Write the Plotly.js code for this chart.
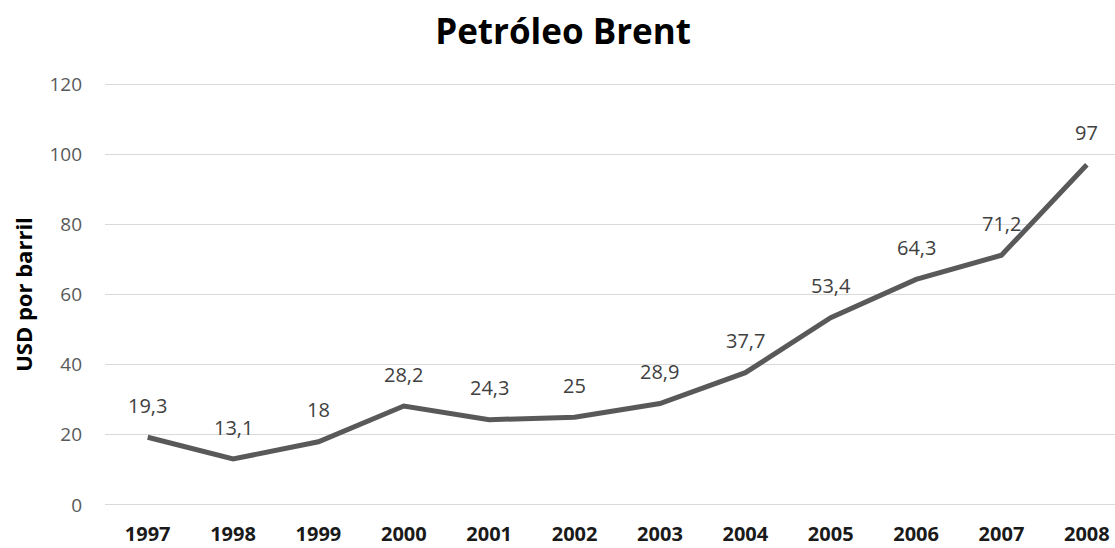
<!DOCTYPE html>
<html>
<head>
<meta charset="utf-8">
<script src="https://cdn.plot.ly/plotly-3.0.1.min.js"></script>
<style>
  html, body { margin: 0; padding: 0; background: #ffffff; }
  #chart { width: 1115px; height: 548px; }
</style>
</head>
<body>
<div id="chart"></div>
<script>
// Precio anual del petróleo Brent (USD por barril)
const years = ['1997', '1998', '1999', '2000', '2001', '2002', '2003', '2004', '2005', '2006', '2007', '2008'];
const prices = [19.3, 13.1, 18, 28.2, 24.3, 25, 28.9, 37.7, 53.4, 64.3, 71.2, 97];
const yTicks = [0, 20, 40, 60, 80, 100, 120];

const FONT = '"Open Sans", "Liberation Sans", sans-serif';

// Etiquetas de valor con coma decimal, encima de cada punto
// (en un eje de categorías la posición x es el índice de la categoría)
const labels = prices.map((v, i) => ({
  x: i,
  y: v,
  xref: 'x',
  yref: 'y',
  text: String(v).replace('.', ','),
  showarrow: false,
  yshift: 32,
  font: { family: FONT, size: 20, color: '#404040' }
}));

const trace = {
  type: 'scatter',
  mode: 'lines',
  x: years,
  y: prices,
  line: { color: '#595959', width: 5 },
  hoverinfo: 'x+y'
};

const layout = {
  width: 1115,
  height: 548,
  margin: { l: 105, r: 0, t: 83, b: 42 },
  paper_bgcolor: '#ffffff',
  plot_bgcolor: '#ffffff',
  showlegend: false,
  title: {
    text: '<b>Petróleo Brent</b>',
    font: { family: FONT, size: 35, color: '#000000' },
    x: 0.505,
    xref: 'container',
    xanchor: 'center',
    y: 0.942,
    yref: 'container',
    yanchor: 'middle'
  },
  xaxis: {
    type: 'category',
    range: [-0.5, 11.33],
    showgrid: false,
    zeroline: false,
    showline: false,
    ticks: '',
    tickfont: { family: FONT, size: 20, color: '#1a1a1a', weight: 'bold' },
    ticklabelstandoff: 14
  },
  yaxis: {
    range: [-0.3, 120.3],
    tickvals: yTicks,
    ticktext: yTicks.map(String),
    showgrid: true,
    gridcolor: '#d9d9d9',
    gridwidth: 1,
    zeroline: false,
    showline: false,
    ticks: '',
    tickfont: { family: FONT, size: 19, color: '#595959' },
    ticklabelstandoff: 22,
    title: {
      text: '<b>USD por barril</b>',
      font: { family: FONT, size: 22, color: '#000000' },
      standoff: 10
    }
  },
  annotations: labels
};

Plotly.newPlot('chart', [trace], layout, { displayModeBar: false, staticPlot: true });
</script>
</body>
</html>
